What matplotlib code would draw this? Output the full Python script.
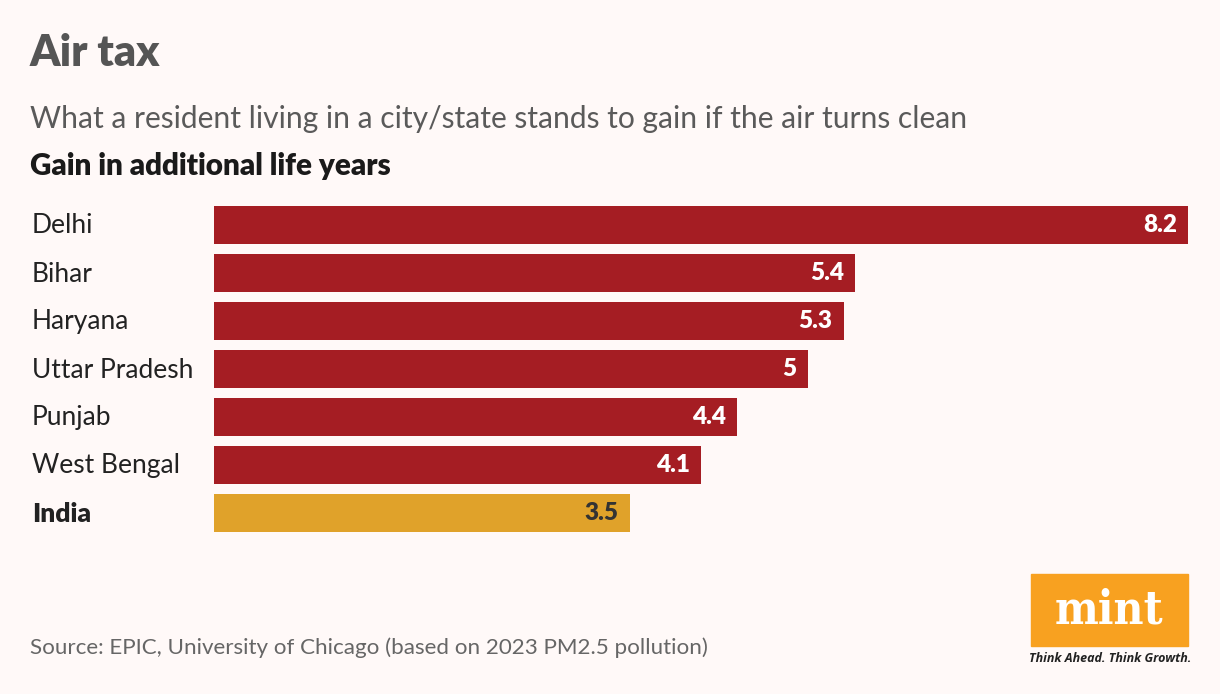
import matplotlib
matplotlib.use("Agg")
import matplotlib.pyplot as plt
from matplotlib.patches import Rectangle

categories = ["Delhi", "Bihar", "Haryana", "Uttar Pradesh", "Punjab", "West Bengal", "India"]
values = [8.2, 5.4, 5.3, 5.0, 4.4, 4.1, 3.5]
value_labels = ["8.2", "5.4", "5.3", "5", "4.4", "4.1", "3.5"]

BG = "#FFF9F8"
RED = "#A51D23"
GOLD = "#E0A22A"
W, H = 1220, 694

fig = plt.figure(figsize=(W / 100, H / 100), dpi=100, facecolor=BG)

def fx(px):
    return px / W

def fy(py):
    return 1 - py / H

ax_left, ax_right = 214, 1188
ax_top, ax_bot = 201, 537
ax = fig.add_axes([fx(ax_left), fy(ax_bot), fx(ax_right - ax_left), (ax_bot - ax_top) / H])
ax.set_facecolor(BG)
ypos = list(range(len(categories)))
colors = [RED] * (len(categories) - 1) + [GOLD]
ax.barh(ypos, values, height=0.81, color=colors, align="center")
ax.set_xlim(0, max(values))
ax.set_ylim(len(categories) - 0.5, -0.5)
ax.axis("off")

for i, (v, lab) in enumerate(zip(values, value_labels)):
    tc = "#333333" if i == len(categories) - 1 else "white"
    ax.annotate(lab, xy=(v, i), xytext=(-8, 0), textcoords="offset points",
                ha="right", va="center", fontsize=17.5, fontweight="heavy",
                color=tc, family="Lato")

for i, c in enumerate(categories):
    bold = (i == len(categories) - 1)
    fig.text(fx(32), fy(ax_top + 25 + 48 * i), c, ha="left", va="center",
             fontsize=19, family="Lato", color="#222222",
             fontweight="heavy" if bold else "normal")

fig.text(fx(30), fy(53), "Air tax", ha="left", va="center", fontsize=31,
         fontweight="heavy", family="Lato", color="#555555")
fig.text(fx(30), fy(119), "What a resident living in a city/state stands to gain if the air turns clean",
         ha="left", va="center", fontsize=21.6, fontweight="normal", family="Lato", color="#5a5a5a")
fig.text(fx(30), fy(166), "Gain in additional life years", ha="left", va="center", fontsize=21.3,
         fontweight="heavy", family="Lato", color="#1a1a1a")
fig.text(fx(30), fy(648), "Source: EPIC, University of Chicago (based on 2023 PM2.5 pollution)",
         ha="left", va="center", fontsize=16.1, family="Lato", color="#666666")

# logo
fig.patches.append(Rectangle((fx(1031), fy(646)), fx(1188 - 1031), (646 - 574) / H,
                             transform=fig.transFigure, color="#F8A120", zorder=1))
fig.text(fx(1109), fy(610), "mint", ha="center", va="center", fontsize=33,
         fontweight="bold", family="DejaVu Serif", fontstretch="condensed",
         color="white", zorder=2)
fig.text(fx(1110), fy(658), "Think Ahead. Think Growth.", ha="center", va="center", fontsize=9,
         fontweight="bold", style="italic", family="Open Sans", color="#222222")

fig.savefig("out.png", dpi=100, facecolor=BG)
